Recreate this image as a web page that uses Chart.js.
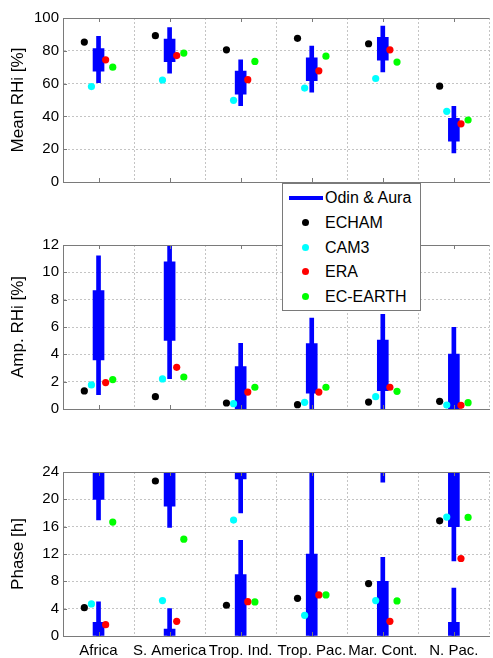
<!DOCTYPE html>
<html>
<head>
<meta charset="utf-8">
<script src="https://cdn.jsdelivr.net/npm/chart.js@4/dist/chart.umd.min.js"></script>
<style>
html,body{margin:0;padding:0;background:#fff;}
#wrap{position:relative;width:493px;height:658px;overflow:hidden;font-family:'Liberation Sans',Arial,sans-serif;}
#wrap canvas{position:absolute;left:0;}
#legend{position:absolute;left:282px;top:183px;width:139px;height:128px;background:#fff;border:1px solid #7a7a7a;box-sizing:border-box;z-index:5;}
.lrow{position:absolute;left:0;width:139px;height:20px;}
.ltxt{position:absolute;left:42px;top:0;font-size:16px;line-height:20px;color:#000;white-space:nowrap;}
.lline{position:absolute;left:6px;top:8px;width:34px;height:4px;background:#0000ff;}
.ldot{position:absolute;left:19px;top:6px;width:7px;height:7px;border-radius:50%;}
</style>
</head>
<body>
<div id="wrap">
  <canvas id="c1" width="493" height="200" style="top:0px"></canvas>
  <canvas id="c2" width="493" height="200" style="top:227px"></canvas>
  <canvas id="c3" width="493" height="204" style="top:454px"></canvas>
  <div id="legend"></div>
</div>
<script>
// ---------------- DATA ----------------
const categories = ['Africa', 'S. America', 'Trop. Ind.', 'Trop. Pac.', 'Mar. Cont.', 'N. Pac.'];
const seriesNames = ['Odin & Aura', 'ECHAM', 'CAM3', 'ERA', 'EC-EARTH'];

// Mean RHi [%]
const obsMeanRange = [[60.6, 88.8], [66.3, 94.1], [46.5, 74.5], [54.7, 82.9], [67.1, 95.1], [17.8, 46.1]];
const obsMeanBox   = [[67.6, 81.4], [73.3, 87.1], [53.5, 67.6], [61.8, 75.7], [74.3, 88.2], [24.9, 38.8]];
const echamMean    = [85.3, 89.2, 80.6, 87.6, 84.3, 58.4];
const cam3Mean     = [58.2, 62.2, 49.8, 57.3, 63.1, 43.1];
const eraMean      = [74.5, 77.1, 62.4, 67.8, 80.6, 35.5];
const ecEarthMean  = [70.0, 78.6, 73.5, 76.7, 73.1, 37.8];

// Amp. RHi [%]
const obsAmpRange  = [[1.05, 11.2], [2.22, 12.5], [-1, 4.8], [-1, 6.66], [-1, 6.93], [-1, 5.98]];
const obsAmpBox    = [[3.59, 8.66], [5.02, 10.76], [-1, 3.1], [1.15, 4.78], [1.34, 5.05], [-1, 4.02]];
const echamAmp     = [1.32, 0.90, 0.44, 0.32, 0.51, 0.56];
const cam3Amp      = [1.76, 2.20, 0.39, 0.49, 0.90, 0.29];
const eraAmp       = [1.93, 3.05, 1.24, 1.24, 1.59, 0.27];
const ecEarthAmp   = [2.15, 2.34, 1.59, 1.59, 1.29, 0.46];

// Phase [h] (ranges may run past 24 h and wrap round to 0)
const obsPhaseRange = [[17.0, 29.0], [15.9, 28.0], [18.0, 38.0], [0, 24], [22.5, 35.5], [11.0, 31.0]];
const obsPhaseBox   = [[20.0, 26.0], [19.0, 25.0], [23.0, 33.0], [0, 12], [25.0, 32.0], [16.0, 26.0]];
const echamPhase    = [4.15, 22.68, 4.5, 5.52, 7.67, 16.86];
const cam3Phase     = [4.69, 5.18, 16.96, 3.03, 5.18, 17.4];
const eraPhase      = [1.66, 2.15, 5.03, 6.01, 2.15, 11.34];
const ecEarthPhase  = [16.67, 14.17, 4.99, 6.01, 5.13, 17.35];

const meanTicks  = {min: 0, max: 100, step: 20};
const ampTicks   = {min: 0, max: 12, step: 2};
const phaseTicks = {min: 0, max: 24, step: 4};

// ---------------- STYLE ----------------
const FONT = "'Liberation Sans', Arial, sans-serif";
const colors = {obs: '#0000ff', echam: '#000000', cam3: '#00ffff', era: '#ff0000', ecearth: '#00ff00'};
const modelOffset = {echam: -0.2, cam3: -0.1, era: 0.1, ecearth: 0.2};

Chart.defaults.font.family = FONT;
Chart.defaults.color = '#000';

function pts(vals, off) { return vals.map((v, i) => ({x: i + off, y: v})); }
function bars(ranges, period) {
  const out = [];
  ranges.forEach((r, i) => {
    if (period && r[1] > period) {
      out.push({x: i, y: [r[0], period]});
      out.push({x: i, y: [0, r[1] - period]});
    } else {
      out.push({x: i, y: r});
    }
  });
  return out;
}
function modelSet(label, vals, key) {
  return {type: 'line', label, data: pts(vals, modelOffset[key]), showLine: false,
    pointRadius: 3.6, pointHoverRadius: 3.6, pointBorderWidth: 0,
    pointBackgroundColor: colors[key], borderColor: colors[key], backgroundColor: colors[key], order: 1};
}
function obsSets(range, box, period) {
  return [
    {type: 'bar', label: seriesNames[0], data: bars(range, period), backgroundColor: colors.obs,
      barThickness: 4, grouped: false, order: 3, borderWidth: 0},
    {type: 'bar', label: seriesNames[0] + ' box', data: bars(box, period), backgroundColor: colors.obs,
      barThickness: 11, grouped: false, order: 2, borderWidth: 0}
  ];
}

const framePlugin = {
  id: 'frame',
  afterDatasetsDraw(chart) {
    const {ctx, chartArea: a, scales} = chart;
    ctx.save();
    ctx.strokeStyle = '#7a7a7a';
    ctx.lineWidth = 1;
    ctx.beginPath();
    ctx.moveTo(a.left, a.top + 0.5); ctx.lineTo(a.right, a.top + 0.5);
    scales.y.ticks.forEach(t => {
      const y = Math.round(scales.y.getPixelForValue(t.value)) + 0.5;
      ctx.moveTo(a.left, y); ctx.lineTo(a.left + 4, y);
    });
    scales.x.ticks.forEach(t => {
      const x = Math.round(scales.x.getPixelForValue(t.value)) + 0.5;
      ctx.moveTo(x, a.bottom); ctx.lineTo(x, a.bottom - 4);
      ctx.moveTo(x, a.top); ctx.lineTo(x, a.top + 4);
    });
    ctx.stroke();
    ctx.restore();
  }
};

function makeChart(id, datasets, yt, title, showX, xHeight) {
  return new Chart(document.getElementById(id), {
    type: 'bar',
    data: {datasets},
    plugins: [framePlugin],
    options: {
      responsive: false, animation: false, devicePixelRatio: 1,
      layout: {padding: {top: 18, right: 0, left: 0, bottom: 0}},
      plugins: {legend: {display: false}, tooltip: {enabled: false}},
      scales: {
        x: {
          type: 'linear', min: -0.5, max: 5.5, offset: false,
          afterBuildTicks: s => { s.ticks = categories.map((c, i) => ({value: i})); },
          afterFit: s => { s.height = xHeight; },
          ticks: {display: showX, autoSkip: false, maxRotation: 0, minRotation: 0, padding: 6,
            font: {size: 15}, color: '#000', callback: v => categories[v]},
          grid: {color: '#c4c4c4', lineWidth: 1, drawTicks: false},
          border: {color: '#7a7a7a', width: 1, dash: [2, 2]}
        },
        y: {
          type: 'linear', min: yt.min, max: yt.max, beginAtZero: false,
          afterFit: s => { s.width = 63; },
          ticks: {stepSize: yt.step, padding: 4, font: {size: 15}, color: '#000'},
          grid: {color: '#c4c4c4', lineWidth: 1, drawTicks: false},
          border: {color: '#7a7a7a', width: 1, dash: [2, 2]},
          title: {display: true, text: title, font: {size: 17}, color: '#000', padding: {top: 8, bottom: 0}}
        }
      }
    }
  });
}

makeChart('c1', [
  ...obsSets(obsMeanRange, obsMeanBox),
  modelSet('ECHAM', echamMean, 'echam'),
  modelSet('CAM3', cam3Mean, 'cam3'),
  modelSet('ERA', eraMean, 'era'),
  modelSet('EC-EARTH', ecEarthMean, 'ecearth')
], meanTicks, 'Mean RHi [%]', false, 18);

makeChart('c2', [
  ...obsSets(obsAmpRange, obsAmpBox),
  modelSet('ECHAM', echamAmp, 'echam'),
  modelSet('CAM3', cam3Amp, 'cam3'),
  modelSet('ERA', eraAmp, 'era'),
  modelSet('EC-EARTH', ecEarthAmp, 'ecearth')
], ampTicks, 'Amp. RHi [%]', false, 18);

makeChart('c3', [
  ...obsSets(obsPhaseRange, obsPhaseBox, 24),
  modelSet('ECHAM', echamPhase, 'echam'),
  modelSet('CAM3', cam3Phase, 'cam3'),
  modelSet('ERA', eraPhase, 'era'),
  modelSet('EC-EARTH', ecEarthPhase, 'ecearth')
], phaseTicks, 'Phase [h]', true, 22);

// ---------------- LEGEND ----------------
const legendEl = document.getElementById('legend');
const legendColors = [colors.obs, colors.echam, colors.cam3, colors.era, colors.ecearth];
seriesNames.forEach((name, i) => {
  const row = document.createElement('div');
  row.className = 'lrow';
  row.style.top = (4 + i * 24.8) + 'px';
  const sym = document.createElement('div');
  sym.className = i === 0 ? 'lline' : 'ldot';
  sym.style.background = legendColors[i];
  const txt = document.createElement('div');
  txt.className = 'ltxt';
  txt.textContent = name;
  row.appendChild(sym); row.appendChild(txt);
  legendEl.appendChild(row);
});
</script>
</body>
</html>
